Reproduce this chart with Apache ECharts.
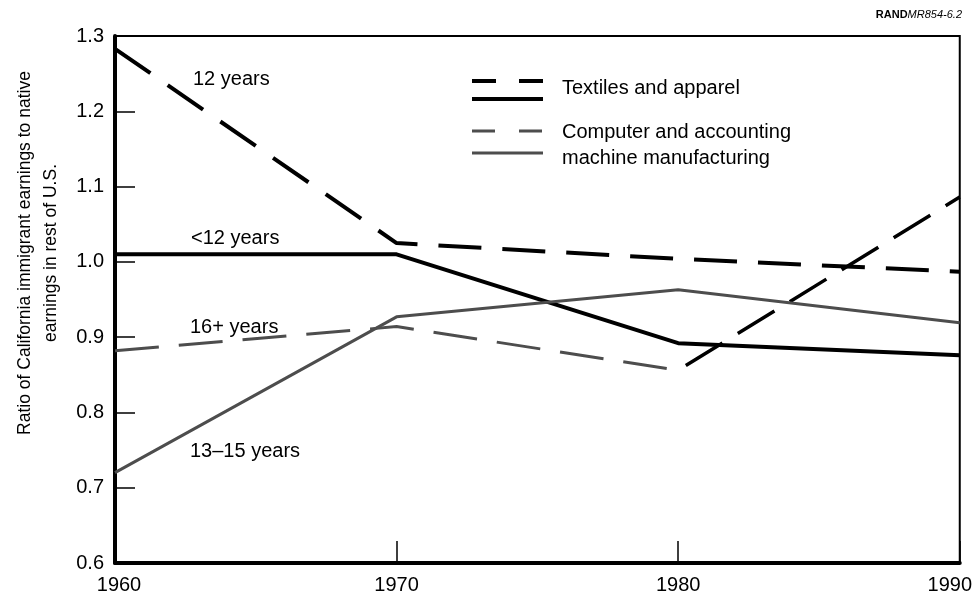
<!DOCTYPE html>
<html>
<head>
<meta charset="utf-8">
<script src="https://cdn.jsdelivr.net/npm/echarts@6/dist/echarts.min.js"></script>
<style>
  html, body { margin: 0; padding: 0; background: #fff; }
  #chart { width: 975px; height: 596px; }
</style>
</head>
<body>
<div id="chart"></div>
<script>
// Datos
const years = [1960, 1970, 1980, 1990];
const textiles12 = [1.283, 1.025, 1.004, 0.987];
const textilesUnder12 = [1.010, 1.010, 0.892, 0.876];
const computer16plus = [0.882, 0.914, 0.856, null];
const computer16plusLate = [null, null, 0.856, 1.086];
const computer13to15 = [0.720, 0.927, 0.963, 0.919];
const xTickLabels = ['1960', '1970', '1980', '1990'];
const yTickLabels = ['0.6', '0.7', '0.8', '0.9', '1.0', '1.1', '1.2', '1.3'];

const FONT = '"Liberation Sans", Arial, Helvetica, sans-serif';
const GRAY = '#4d4d4d';

function pairs(values) {
  const out = [];
  values.forEach((v, i) => { if (v !== null) out.push([years[i], v]); });
  return out;
}

function lineSeries(name, values, color, width, dash, dashOffset) {
  return {
    name: name,
    type: 'line',
    data: pairs(values),
    symbol: 'none',
    lineStyle: { color: color, width: width, type: dash || 'solid', dashOffset: dashOffset || 0, cap: 'butt' },
    z: 3
  };
}

const chart = echarts.init(document.getElementById('chart'));

const option = {
  backgroundColor: '#ffffff',
  animation: false,
  grid: {
    left: 115, right: 15, top: 36, bottom: 33,
    show: true, borderColor: '#000', borderWidth: 2, backgroundColor: 'transparent'
  },
  xAxis: {
    type: 'value',
    min: 1960, max: 1990, interval: 10,
    axisLine: { lineStyle: { color: '#000', width: 4 } },
    axisTick: { inside: true, length: 22, lineStyle: { color: '#000', width: 1.5 } },
    splitLine: { show: false },
    axisLabel: {
      margin: 12,
      color: '#000',
      fontSize: 20,
      fontFamily: FONT,
      formatter: function (v) {
        const i = years.indexOf(v);
        const t = i >= 0 ? xTickLabels[i] : '';
        if (i === 0) return '{l|' + t + '}';
        if (i === years.length - 1) return '{r|' + t + '}';
        return t;
      },
      rich: {
        l: { fontSize: 20, fontFamily: FONT, color: '#000', padding: [0, 0, 0, 8] },
        r: { fontSize: 20, fontFamily: FONT, color: '#000', padding: [0, 20, 0, 0] }
      }
    }
  },
  yAxis: {
    type: 'value',
    min: 0.6, max: 1.3, interval: 0.1,
    axisLine: { lineStyle: { color: '#000', width: 4 } },
    axisTick: { inside: true, length: 20, lineStyle: { color: '#000', width: 1.5 } },
    splitLine: { show: false },
    axisLabel: {
      margin: 11,
      color: '#000',
      fontSize: 20,
      fontFamily: FONT,
      formatter: function (v) {
        const i = Math.round((v - 0.6) / 0.1);
        return yTickLabels[i] || '';
      }
    }
  },
  series: [
    lineSeries('Textiles 12 years', textiles12, '#000', 4, [43, 21]),
    lineSeries('Textiles <12 years', textilesUnder12, '#000', 4),
    lineSeries('Computer 16+ years', computer16plus, GRAY, 3, [44, 20]),
    lineSeries('Computer 16+ years (1980-1990)', computer16plusLate, '#000', 3.5, [43, 18], 52),
    lineSeries('Computer 13-15 years', computer13to15, GRAY, 3)
  ],
  graphic: [
    // título del eje Y
    {
      type: 'text', x: 38, y: 253, rotation: Math.PI / 2,
      style: {
        text: 'Ratio of California immigrant earnings to native\nearnings in rest of U.S.',
        align: 'center', verticalAlign: 'middle',
        fontSize: 17.5, lineHeight: 26, fontFamily: FONT, fill: '#000'
      }
    },
    // etiqueta superior derecha
    {
      type: 'text', x: 962, y: 15,
      style: {
        text: '{b|RAND}{i|MR854-6.2}',
        align: 'right', verticalAlign: 'middle',
        rich: {
          b: { fontSize: 11, fontWeight: 'bold', fontFamily: FONT, fill: '#000' },
          i: { fontSize: 11, fontStyle: 'italic', fontFamily: FONT, fill: '#000' }
        }
      }
    },
    // etiquetas de las líneas
    { type: 'text', x: 193, y: 79, style: { text: '12 years', fontSize: 20, fontFamily: FONT, fill: '#000', verticalAlign: 'middle' } },
    { type: 'text', x: 191, y: 238, style: { text: '<12 years', fontSize: 20, fontFamily: FONT, fill: '#000', verticalAlign: 'middle' } },
    { type: 'text', x: 190, y: 327, style: { text: '16+ years', fontSize: 20, fontFamily: FONT, fill: '#000', verticalAlign: 'middle' } },
    { type: 'text', x: 190, y: 451, style: { text: '13\u201315 years', fontSize: 20, fontFamily: FONT, fill: '#000', verticalAlign: 'middle' } },
    // leyenda
    { type: 'line', shape: { x1: 472, y1: 81, x2: 543, y2: 81 }, style: { stroke: '#000', lineWidth: 4, lineDash: [24, 23] } },
    { type: 'line', shape: { x1: 472, y1: 99, x2: 543, y2: 99 }, style: { stroke: '#000', lineWidth: 4 } },
    { type: 'line', shape: { x1: 472, y1: 131, x2: 543, y2: 131 }, style: { stroke: GRAY, lineWidth: 3, lineDash: [23, 24] } },
    { type: 'line', shape: { x1: 472, y1: 153, x2: 543, y2: 153 }, style: { stroke: GRAY, lineWidth: 3 } },
    { type: 'text', x: 562, y: 88, style: { text: 'Textiles and apparel', fontSize: 20, fontFamily: FONT, fill: '#000', verticalAlign: 'middle' } },
    { type: 'text', x: 562, y: 132, style: { text: 'Computer and accounting', fontSize: 20, fontFamily: FONT, fill: '#000', verticalAlign: 'middle' } },
    { type: 'text', x: 562, y: 158, style: { text: 'machine manufacturing', fontSize: 20, fontFamily: FONT, fill: '#000', verticalAlign: 'middle' } }
  ]
};

chart.setOption(option);

window.addEventListener('resize', function () {
  chart.resize();
});
</script>
</body>
</html>
